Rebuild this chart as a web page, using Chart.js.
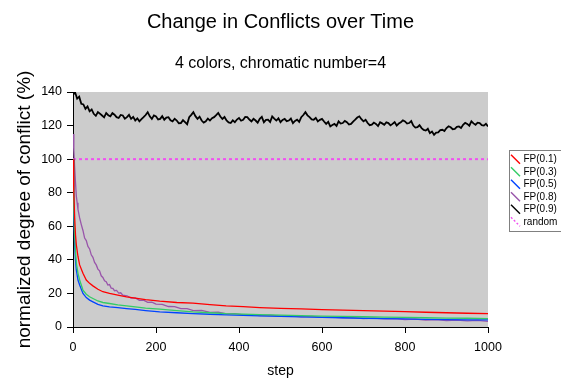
<!DOCTYPE html>
<html>
<head>
<meta charset="utf-8">
<script src="https://cdn.jsdelivr.net/npm/chart.js@4.4.1/dist/chart.umd.min.js"></script>
<style>
  html, body { margin: 0; padding: 0; background: #ffffff; }
  #wrap { width: 561px; height: 381px; }
</style>
</head>
<body>
<div id="wrap"><canvas id="c" width="561" height="381"></canvas></div>
<script>
// ---- data ----
const titleText = 'Change in Conflicts over Time';
const subtitleText = '4 colors, chromatic number=4';
const xTitle = 'step';
const yTitle = 'normalized degree of conflict (%)';
const seriesNames = ['FP(0.1)', 'FP(0.3)', 'FP(0.5)', 'FP(0.8)', 'FP(0.9)', 'random'];

const xTicks = [0, 200, 400, 600, 800, 1000];
const yTicks = [0, 20, 40, 60, 80, 100, 120, 140];

const smoothSteps = [0, 2, 4, 6, 8, 12, 16, 24, 32, 40, 48, 60, 72, 88, 108, 129, 150, 175, 209, 250, 289, 330, 369, 410, 450, 500, 550, 600, 650, 700, 750, 800, 850, 900, 950, 1000];
const fp01 = [100, 80, 65, 55, 49, 42, 37, 32, 28, 26, 24.5, 22.5, 21, 20, 19, 18, 17.2, 16.3, 15.4, 14.6, 14.2, 13.3, 12.6, 12.1, 11.6, 11.1, 10.8, 10.4, 10.1, 9.8, 9.4, 9.1, 8.8, 8.5, 8.2, 8.0];
const fp03 = [100, 70, 55, 45, 38, 32, 28, 22, 19.5, 18, 17, 15.5, 14.6, 14, 13.2, 12.6, 12, 11.3, 10.6, 9.8, 9.0, 8.5, 8.0, 7.7, 7.4, 7.1, 6.8, 6.5, 6.3, 6.1, 5.9, 5.7, 5.5, 5.3, 5.2, 5.0];
const fp05 = [100, 66, 50, 40, 34, 28, 25, 20, 17.5, 16, 15, 13.5, 12.6, 12, 11.5, 11, 10.5, 9.8, 9.0, 8.5, 8.0, 7.6, 7.2, 6.9, 6.6, 6.3, 6.0, 5.7, 5.5, 5.2, 5.0, 4.8, 4.6, 4.4, 4.3, 4.2];

const fp08Steps = [0,2,4,6,8,10,12,14,16,20,24,28,32,36,40,44,48,52,56,60,64,68,72,76,80,84,88,92,96,100,
 105,110,115,120,130,140,150,160,170,180,190,200,215,230,245,260,275,290,310,330,350,370,390,410,430,450,
 475,500,525,550,575,600,625,650,675,700,725,750,775,800,825,850,875,900,925,950,975,1000];
const fp08 = [115,105,95,86,78,74,70,67.5,65,61,57.5,53,51.5,48,46.5,43,41.5,38.5,37,34.5,33.5,30.5,29.5,27.5,27,25,25.3,23.2,23,21.6,
 21.8,20.2,20.4,19,18.6,17.2,17.3,15.9,16,14.7,14.8,13.6,13.5,12.2,12.1,10.9,10.9,9.8,9.9,8.7,8.8,7.8,8.0,7.2,7.4,6.8,
 7.0,6.4,6.6,6.0,6.3,5.7,5.9,5.4,5.6,5.0,5.3,4.8,5.0,4.4,4.7,4.1,4.4,3.8,4.1,3.6,3.9,3.4];

const noisySteps = [0,5,10,15,20,25,30,35,40,45,50,55,60,65,70,75,80,85,90,95,
 100,105,110,115,120,125,130,135,140,145,150,155,160,165,170,175,180,185,190,195,
 200,205,210,215,220,225,230,235,240,245,250,255,260,265,270,275,280,285,290,295,
 300,305,310,315,320,325,330,335,340,345,350,355,360,365,370,375,380,385,390,395,
 400,405,410,415,420,425,430,435,440,445,450,455,460,465,470,475,480,485,490,495,
 500,505,510,515,520,525,530,535,540,545,550,555,560,565,570,575,580,585,590,595,
 600,605,610,615,620,625,630,635,640,645,650,655,660,665,670,675,680,685,690,695,
 700,705,710,715,720,725,730,735,740,745,750,755,760,765,770,775,780,785,790,795,
 800,805,810,815,820,825,830,835,840,845,850,855,860,865,870,875,880,885,890,895,
 900,905,910,915,920,925,930,935,940,945,950,955,960,965,970,975,980,985,990,995,1000];
const fp09 = [138.5,139.8,136,137.2,133,132.6,130,131.4,128.5,129.6,127,125.8,128,127.1,126,124.9,127.5,126.2,125.5,127.4,
 126.5,125,124.5,126.3,126,124.1,125,126.4,124,125.2,123,124.3,122.5,123.8,125,126.3,128,125.5,124,126.1,
 125.5,123.6,124,125.6,123.5,124.7,125,123.2,122.5,124.1,123,121.4,121.5,123.2,122,120.8,125,126.4,128,125.6,
 124,125.3,123,121.8,122.5,124.2,123,124.4,125,126.2,127.5,125.4,124,125.1,123,121.9,121.5,123.1,122,123.6,
 124.5,122.9,123.5,125.1,125,123.6,122.5,124,123,121.7,124,125.2,122,123.4,123.5,122.1,125.5,124.2,123,124.3,
 122,123.4,124,122.6,123,124.2,121.5,122.8,123.5,122.2,125,126.3,128,126.1,125,123.7,123.5,124.6,122.5,123.4,
 124,122.4,121,122.2,119.5,120.3,121,119.8,122.5,121.2,121.5,122.8,122,120.6,121,122.4,123.5,124.8,125.5,123.8,
 122.5,123.4,121.5,120.2,120.5,121.8,121,119.7,122,121.3,120.5,121.9,121.5,120.1,121,122.1,120,121.2,122,123.1,
 122.5,121.2,121.5,122.7,120,118.8,119,120.2,118.5,117.4,117,118.1,115.5,116.4,114.5,115.8,116,117.3,117.5,116.7,
 118.5,119.6,119,117.8,118,119.2,119.5,118.6,120.5,121.6,121,119.9,122.5,121.3,120.5,121.7,121.5,120.3,120,121.1,119.5];

const randomSteps = [0, 1000];
const randomValues = [100, 100];

// ---- build ----
function pts(xs, ys) { return xs.map((x, i) => ({ x: x, y: ys[i] })); }

const FONT = "Arial, 'Liberation Sans', sans-serif";

const datasets = [
  { label: seriesNames[0], data: pts(smoothSteps, fp01), borderColor: '#ff0000', borderWidth: 1.3 },
  { label: seriesNames[1], data: pts(smoothSteps, fp03), borderColor: '#33cc66', borderWidth: 1.3 },
  { label: seriesNames[2], data: pts(smoothSteps, fp05), borderColor: '#0044ff', borderWidth: 1.3 },
  { label: seriesNames[3], data: pts(fp08Steps, fp08), borderColor: '#9955aa', borderWidth: 1.3 },
  { label: seriesNames[4], data: pts(noisySteps, fp09), borderColor: '#000000', borderWidth: 1.8 },
  { label: seriesNames[5], data: pts(randomSteps, randomValues), borderColor: '#f050f0', borderWidth: 2, borderDash: [3, 3] }
].map(d => Object.assign({ pointRadius: 0, tension: 0, fill: false, backgroundColor: d.borderColor }, d));

const bgPlugin = {
  id: 'bgPlugin',
  beforeDraw(chart) {
    const { ctx, chartArea: a } = chart;
    ctx.save();
    ctx.fillStyle = '#cccccc';
    ctx.fillRect(a.left, a.top, a.right - a.left, a.bottom - a.top);
    const lg = chart.legend;
    if (lg && lg.legendHitBoxes && lg.legendHitBoxes.length) {
      const hb = lg.legendHitBoxes;
      const top = Math.round(hb[0].top) - 3.5;
      const last = hb[hb.length - 1];
      const bottom = Math.round(last.top + last.height) + 4.5;
      const left = Math.round(lg.left) - 0.5;
      ctx.fillStyle = '#ffffff';
      ctx.fillRect(left, top, 570 - left, bottom - top);
      ctx.strokeStyle = '#808080';
      ctx.lineWidth = 1;
      ctx.strokeRect(left, top, 570 - left, bottom - top);
    }
    ctx.restore();
  }
};

new Chart(document.getElementById('c'), {
  type: 'line',
  data: { datasets: datasets },
  plugins: [bgPlugin],
  options: {
    responsive: false,
    animation: false,
    events: [],
    layout: { padding: 0 },
    plugins: {
      title: {
        display: true, text: titleText, color: '#000',
        font: { family: FONT, size: 20, weight: 'normal', lineHeight: 1.2 },
        padding: { top: 10, bottom: 10 }
      },
      subtitle: {
        display: true, text: subtitleText, color: '#000',
        font: { family: FONT, size: 16, weight: 'normal', lineHeight: 1.2 },
        padding: { top: 10.4, bottom: 18.4 }
      },
      legend: {
        display: true, position: 'right', align: 'center', maxWidth: 51,
        labels: {
          color: '#000',
          font: { family: FONT, size: 10 },
          boxWidth: 6, boxHeight: 9, padding: 2.5,
          usePointStyle: true,
          generateLabels(chart) {
            return chart.data.datasets.map((d, i) => ({
              text: d.label,
              fillStyle: d.borderColor,
              strokeStyle: d.borderColor,
              lineWidth: 1.4,
              lineDash: d.borderDash ? [2, 2] : [],
              pointStyle: 'line',
              rotation: 45,
              fontColor: '#000',
              datasetIndex: i,
              hidden: false
            }));
          }
        }
      },
      tooltip: { enabled: false }
    },
    scales: {
      x: {
        type: 'linear', min: 0, max: 1000,
        afterBuildTicks(s) { s.ticks = xTicks.map(v => ({ value: v })); },
        afterFit(s) { s.height = 54; },
        ticks: { color: '#000', font: { family: FONT, size: 12.5 }, padding: 7, maxRotation: 0, autoSkip: false,
                 callback: v => String(v) },
        grid: { display: true, drawOnChartArea: false, drawTicks: true, tickLength: 6, color: '#000' },
        border: { display: true, color: '#000', width: 1 },
        title: { display: true, text: xTitle, color: '#000', font: { family: FONT, size: 14 }, padding: { top: 0, bottom: 1.6 } }
      },
      y: {
        type: 'linear', min: 0, max: 140, position: 'left',
        afterBuildTicks(s) { s.ticks = yTicks.map(v => ({ value: v })); },
        afterFit(s) { s.width = 73; },
        ticks: { color: '#000', font: { family: FONT, size: 12.5 }, padding: 5, callback: v => String(v) },
        grid: { display: true, drawOnChartArea: false, drawTicks: true, tickLength: 6, color: '#000' },
        border: { display: true, color: '#000', width: 1 },
        title: { display: true, text: yTitle, color: '#000', font: { family: FONT, size: 19 }, padding: { top: 13, bottom: 0 } }
      },
      y2: {
        type: 'linear', position: 'right', display: true,
        afterFit(s) { s.width = 22; },
        ticks: { display: false },
        grid: { display: false, drawTicks: false },
        border: { display: false }
      }
    }
  }
});
</script>
</body>
</html>
